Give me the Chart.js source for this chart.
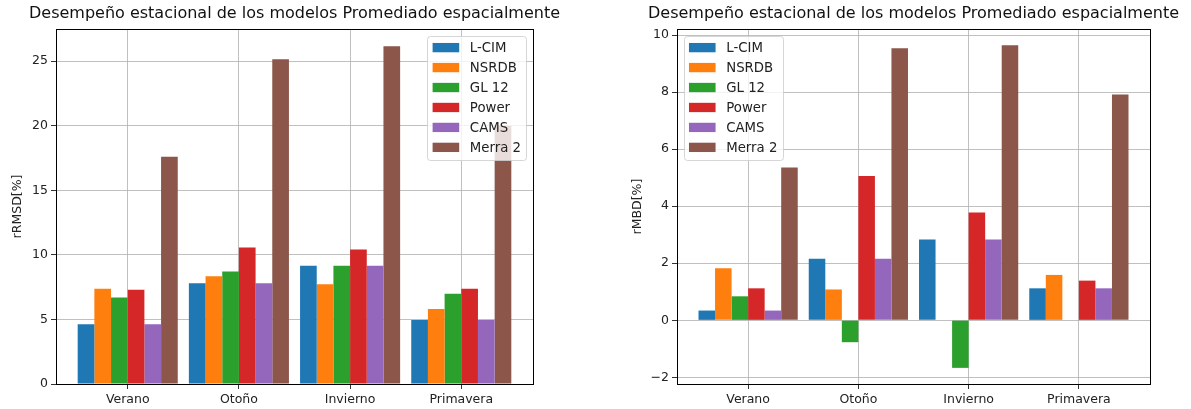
<!DOCTYPE html>
<html>
<head>
<meta charset="utf-8">
<script src="https://cdn.jsdelivr.net/npm/chart.js@4/dist/chart.umd.min.js"></script>
<style>
  body { margin: 0; background: #fff; }
  #wrap { position: relative; width: 1191px; height: 409px; }
  canvas { position: absolute; top: 0; }
</style>
</head>
<body>
<div id="wrap">
  <canvas id="rmsd-chart" width="600" height="409" style="left:0"></canvas>
  <canvas id="mbd-chart" width="591" height="409" style="left:600px"></canvas>
</div>
<script>
// Categories and series
const seasons = ['Verano', 'Otoño', 'Invierno', 'Primavera'];
const models = ['L-CIM', 'NSRDB', 'GL 12', 'Power', 'CAMS', 'Merra 2'];
const modelColors = ['#1f77b4', '#ff7f0e', '#2ca02c', '#d62728', '#9467bd', '#8c564b'];

// rRMSD [%] per model, one value per season
const lcimRmsd  = [4.62, 7.81, 9.15, 4.95];
const nsrdbRmsd = [7.37, 8.35, 7.73, 5.80];
const gl12Rmsd  = [6.70, 8.71, 9.15, 6.98];
const powerRmsd = [7.29, 10.57, 10.41, 7.37];
const camsRmsd  = [4.62, 7.81, 9.15, 4.95];
const merraRmsd = [17.6, 25.15, 26.15, 20.0];

// rMBD [%] per model
const lcimMbd  = [0.34, 2.16, 2.83, 1.12];
const nsrdbMbd = [1.82, 1.08, 0.0, 1.59];
const gl12Mbd  = [0.84, -0.77, -1.67, 0.0];
const powerMbd = [1.12, 5.06, 3.78, 1.39];
const camsMbd  = [0.34, 2.16, 2.83, 1.12];
const merraMbd = [5.36, 9.54, 9.65, 7.92];

// tick labels
const rmsdTicks = [0, 5, 10, 15, 20, 25];
const mbdTicks = [-2, 0, 2, 4, 6, 8, 10];
const seasonTicks = [0, 1, 2, 3];

const FONT = '"DejaVu Sans", sans-serif';
const TITLE = 'Desempeño estacional de los modelos Promediado espacialmente';

Chart.defaults.font.family = FONT;
Chart.defaults.color = '#222';

// box round the plot, like matplotlib spines
const frame = {
    id: 'frame',
    afterDraw(chart) {
        const { ctx, chartArea: a } = chart;
        ctx.save();
        ctx.strokeStyle = '#000';
        ctx.lineWidth = 1;
        ctx.strokeRect(Math.round(a.left) + 0.5, Math.round(a.top) + 0.5,
            Math.round(a.right - a.left), Math.round(a.bottom - a.top));
        ctx.restore();
    }
};

// title centred over the plot area (the built-in one squeezes long text)
const plotTitle = {
    id: 'plotTitle',
    afterDraw(chart, args, opts) {
        const { ctx, chartArea: a } = chart;
        ctx.save();
        ctx.font = opts.fontSize + 'px ' + FONT;
        ctx.fillStyle = '#111';
        ctx.textAlign = 'center';
        ctx.textBaseline = 'middle';
        ctx.fillText(opts.text, (a.left + a.right) / 2, opts.y);
        ctx.restore();
    }
};

// legend box inside the plot area
const boxLegend = {
    id: 'boxLegend',
    afterDraw(chart, args, opts) {
        const { ctx, chartArea: area } = chart;
        const fs = opts.fontSize;
        const sets = chart.data.datasets;
        ctx.save();
        ctx.font = fs + 'px ' + FONT;
        const textW = Math.max(...sets.map(d => ctx.measureText(d.label).width));
        const pad = 0.4 * fs, rowH = 1.0 * fs, gap = 0.5 * fs;
        const handle = 2 * fs, htp = 0.8 * fs;
        const w = pad * 2 + handle + htp + textW;
        const h = pad * 2 + sets.length * rowH + (sets.length - 1) * gap;
        const x = opts.corner === 'right' ? area.right - 0.5 * fs - w : area.left + 0.5 * fs;
        const y = area.top + 0.5 * fs;

        ctx.beginPath();
        ctx.roundRect(Math.round(x) + 0.5, Math.round(y) + 0.5, Math.round(w), Math.round(h), 3);
        ctx.fillStyle = 'rgba(255,255,255,0.8)';
        ctx.fill();
        ctx.strokeStyle = 'rgba(204,204,204,0.8)';
        ctx.lineWidth = 1;
        ctx.stroke();

        ctx.textBaseline = 'middle';
        sets.forEach((d, i) => {
            const cy = y + pad + i * (rowH + gap) + rowH / 2;
            ctx.fillStyle = d.backgroundColor;
            ctx.fillRect(x + pad, cy - 0.35 * fs, handle, 0.7 * fs);
            ctx.fillStyle = '#222';
            ctx.fillText(d.label, x + pad + handle + htp, cy + 1);
        });
        ctx.restore();
    }
};

function makeDatasets(series) {
    return series.map((vals, i) => ({
        label: models[i],
        data: vals.map((v, j) => ({ x: seasonTicks[j], y: v })),
        backgroundColor: modelColors[i],
        borderWidth: 0,
        categoryPercentage: 0.9,
        barPercentage: 1.0
    }));
}

function makeChart(canvasId, series, opt) {
    const ctx = document.getElementById(canvasId).getContext('2d');
    return new Chart(ctx, {
        type: 'bar',
        data: { datasets: makeDatasets(series) },
        plugins: [frame, plotTitle, boxLegend],
        options: {
            responsive: false,
            animation: false,
            devicePixelRatio: 1,
            layout: { padding: { left: 0, right: opt.padRight, top: 29, bottom: 0 } },
            scales: {
                x: {
                    type: 'linear',
                    min: -0.645,
                    max: 3.645,
                    offset: false,
                    z: 1,
                    afterBuildTicks: axis => { axis.ticks = seasonTicks.map(v => ({ value: v })); },
                    afterFit: axis => { axis.height = 25; },
                    grid: { offset: false, color: '#b0b0b0', lineWidth: 0.8, tickLength: 5, tickColor: '#000' },
                    border: { display: false },
                    ticks: {
                        padding: 3,
                        maxRotation: 0,
                        autoSkip: false,
                        font: { size: 12.5 },
                        callback: v => seasons[v]
                    }
                },
                y: {
                    min: opt.yMin,
                    max: opt.yMax,
                    z: 1,
                    afterBuildTicks: axis => { axis.ticks = opt.ticks.map(v => ({ value: v })); },
                    afterFit: axis => { axis.width = opt.axisWidth; },
                    grid: { color: '#b0b0b0', lineWidth: 0.8, tickLength: 5, tickColor: '#000' },
                    border: { display: false },
                    title: {
                        display: true,
                        text: opt.yTitle,
                        font: { size: 12.5 },
                        padding: { top: opt.titlePad, bottom: 0 }
                    },
                    ticks: {
                        padding: 3,
                        autoSkip: false,
                        font: { size: 12.5 },
                        callback: v => String(v).replace('-', '\u2212')
                    }
                }
            },
            plugins: {
                legend: { display: false },
                title: { display: false },
                tooltip: { enabled: false },
                plotTitle: { text: TITLE, fontSize: 16, y: 14 },
                boxLegend: { fontSize: 13.3, corner: opt.legendCorner }
            }
        }
    });
}

makeChart('rmsd-chart',
    [lcimRmsd, nsrdbRmsd, gl12Rmsd, powerRmsd, camsRmsd, merraRmsd],
    { yMin: 0, yMax: 27.49, ticks: rmsdTicks, yTitle: 'rRMSD[%]', axisWidth: 56,
      titlePad: 10.5, padRight: 67, legendCorner: 'right' });

makeChart('mbd-chart',
    [lcimMbd, nsrdbMbd, gl12Mbd, powerMbd, camsMbd, merraMbd],
    { yMin: -2.236, yMax: 10.216, ticks: mbdTicks, yTitle: 'rMBD[%]', axisWidth: 77,
      titlePad: 30.5, padRight: 41, legendCorner: 'left' });
</script>
</body>
</html>
